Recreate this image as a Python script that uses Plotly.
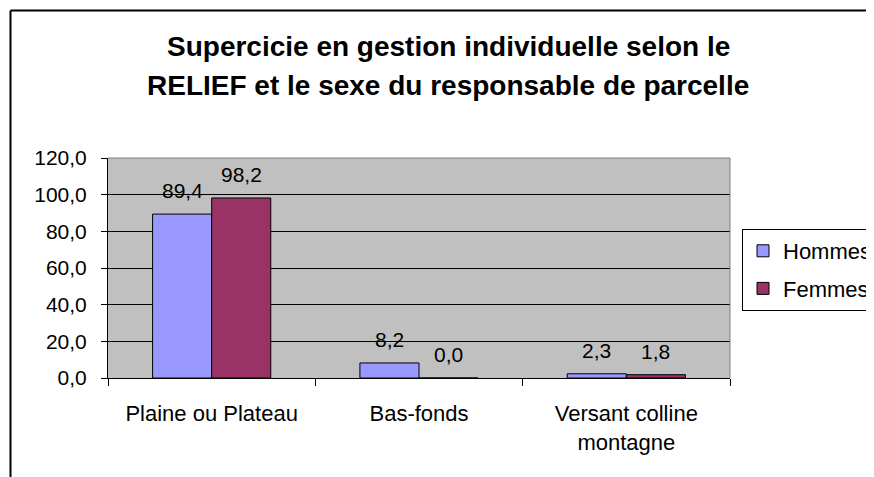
import plotly.graph_objects as go

categories = ["Plaine ou Plateau", "Bas-fonds", "Versant colline<br>montagne"]
hommes = [89.4, 8.2, 2.3]
femmes = [98.2, 0.0, 1.8]
series_names = ["Hommes", "Femmes"]
series_colors = ["#9999FF", "#993366"]
title_lines = ["Supercicie en gestion individuelle selon le",
               "RELIEF et le sexe du responsable de parcelle"]
y_ticks = [0, 20, 40, 60, 80, 100, 120]

# page has an 8px body margin: the figure starts at (8, 8) of the window
OFF = 8
W, H = 874 - OFF, 477 - OFF
L, T = 108 - OFF, 158 - OFF
R = W - (730 - OFF)
B = H - (378 - OFF)
pw, ph = W - L - R, H - T - B

def px_x(x):  # x in window pixels -> paper
    return (x - OFF - L) / pw

def px_y(y):  # y in window pixels -> paper
    return (H - B - (y - OFF)) / ph

FONT = "Arial, 'Liberation Sans', sans-serif"

fig = go.Figure()
for name, vals, col in zip(series_names, [hommes, femmes], series_colors):
    fig.add_trace(go.Bar(
        x=categories, y=vals, name=name,
        marker=dict(color=col, line=dict(color="black", width=1)),
        legendgroup=name,
    ))

annotations = []
bargap = 0.43
shift = (1 - bargap) * (pw / len(categories)) / 4
for k, vals in enumerate([hommes, femmes]):
    for c, v in zip(categories, vals):
        annotations.append(dict(
            x=c, y=v, xref="x", yref="y",
            text=f"{v:.1f}".replace(".", ","),
            showarrow=False, yanchor="bottom",
            xshift=-shift if k == 0 else shift, yshift=10,
            font=dict(family=FONT, size=21, color="black"),
        ))

for line, ypx in zip(title_lines, [47, 86]):
    annotations.append(dict(
        x=px_x(448), y=px_y(ypx), xref="paper", yref="paper",
        text=f"<b>{line}</b>", showarrow=False,
        xanchor="center", yanchor="middle",
        font=dict(family=FONT, size=28, color="black"),
    ))

shapes = [
    # outer chart frame (left and top edges visible)
    dict(type="line", xref="paper", yref="paper",
         x0=px_x(10.5), x1=px_x(10.5), y0=px_y(10.5), y1=px_y(520),
         line=dict(color="black", width=2)),
    dict(type="line", xref="paper", yref="paper",
         x0=px_x(10.5), x1=px_x(920), y0=px_y(10.5), y1=px_y(10.5),
         line=dict(color="black", width=2)),
    # plot area border top/right
    dict(type="line", xref="paper", yref="paper",
         x0=0, x1=1, y0=1, y1=1, line=dict(color="#808080", width=1)),
    dict(type="line", xref="paper", yref="paper",
         x0=1, x1=1, y0=0, y1=1, line=dict(color="#808080", width=1)),
]

fig.update_layout(
    width=W, height=H,
    margin=dict(l=L, r=R, t=T, b=B, autoexpand=False),
    paper_bgcolor="white", plot_bgcolor="#C0C0C0",
    separators=", ",
    barmode="group", bargap=bargap, bargroupgap=0,
    font=dict(family=FONT, size=21, color="black"),
    showlegend=True,
    legend=dict(
        x=px_x(742), y=px_y(229), xanchor="left", yanchor="top",
        bgcolor="white", bordercolor="black", borderwidth=1,
        font=dict(family=FONT, size=22, color="black"),
        tracegroupgap=6, traceorder="grouped",
    ),
    annotations=annotations,
    shapes=shapes,
)
fig.update_yaxes(
    range=[0, 120], tickvals=y_ticks, tickformat=".1f",
    showgrid=True, gridcolor="black", gridwidth=1,
    ticks="outside", ticklen=6, tickcolor="black", tickwidth=1,
    showline=True, linecolor="black", linewidth=1,
    zeroline=False, ticklabelstandoff=10,
    tickfont=dict(family=FONT, size=21, color="black"),
)
fig.update_xaxes(
    type="category", tickson="boundaries",
    ticks="outside", ticklen=7, tickcolor="black", tickwidth=1,
    showline=True, linecolor="black", linewidth=1,
    tickfont=dict(family=FONT, size=22, color="black"),
    ticklabelstandoff=16,
)

fig.write_html("out.html")
